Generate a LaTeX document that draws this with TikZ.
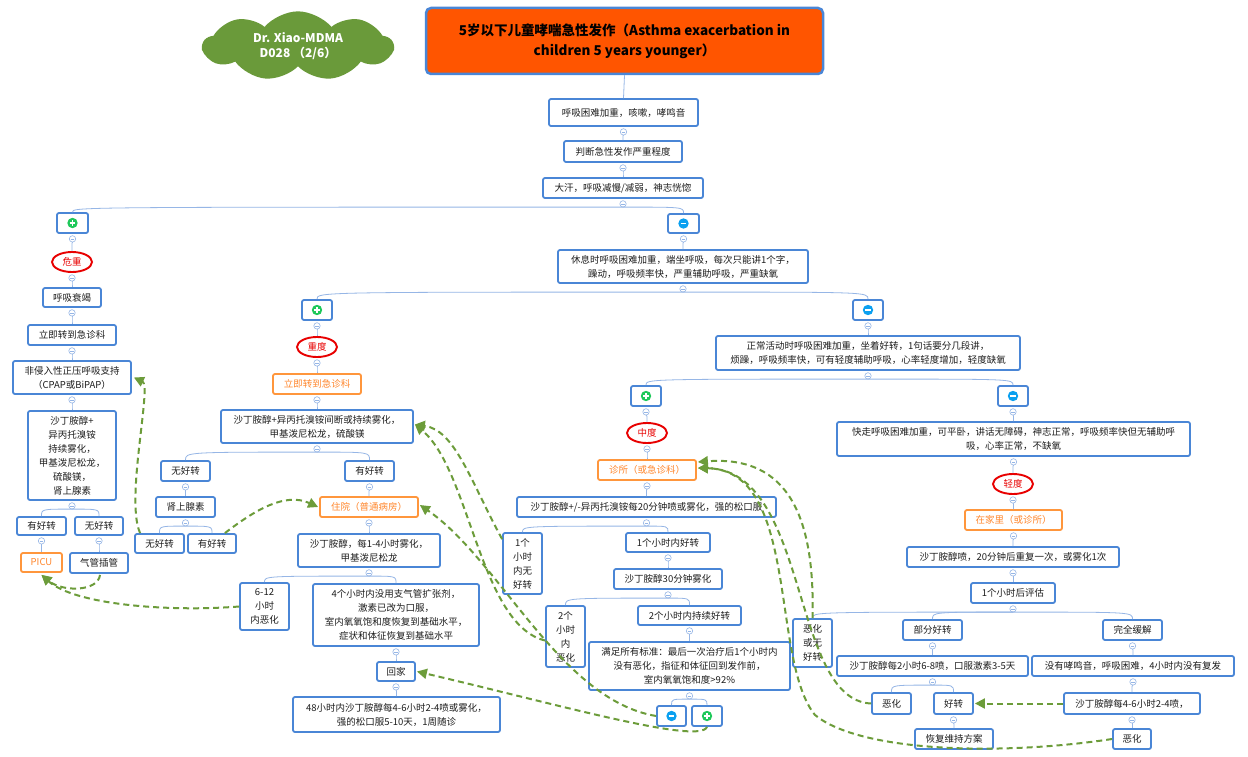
\documentclass[tikz,border=0pt]{standalone}
\usepackage{fontspec}
\setmainfont{Noto Sans CJK SC}
\usetikzlibrary{shapes.geometric,shapes.symbols,arrows.meta,calc}
\definecolor{bblue}{RGB}{74,134,214}
\definecolor{lblue}{RGB}{150,182,230}
\definecolor{oborder}{RGB}{255,150,60}
\definecolor{otext}{RGB}{255,135,45}
\definecolor{rred}{RGB}{232,0,0}
\definecolor{dgreen}{RGB}{108,156,58}
\definecolor{cgreen}{RGB}{106,154,58}
\definecolor{tred}{RGB}{255,85,0}
\definecolor{pgreen}{RGB}{30,200,90}
\definecolor{mblue}{RGB}{10,160,240}
\definecolor{txt}{RGB}{30,30,30}
\tikzset{
 bx/.style={draw=bblue, line width=1.8pt, rounded corners=2pt, fill=white, align=center, inner sep=0pt, font=\fontsize{9.5}{14}\selectfont, text=txt},
 ob/.style={draw=oborder, text=otext},
 ell/.style={ellipse, draw=rred, line width=1.9pt, fill=white, text=rred, inner sep=0pt, minimum width=40, minimum height=20, font=\fontsize{9.5}{12}\selectfont},
 tl/.style={draw=lblue, line width=0.8pt},
 ccs/.style={draw=lblue, line width=0.6pt, fill=white},
 da/.style={draw=dgreen, line width=2pt, dash pattern=on 6pt off 4pt, -{Triangle[length=10pt,width=10pt]}},
}
\newcommand{\bxn}[7][]{\node[bx,#1,minimum width={#5-#3},minimum height={#6-#4}] (#2) at ({(#3+#5)/2},{(#4+#6)/2}) {#7};}
\newcommand{\cc}[1]{\coordinate (#1o) at ($(#1.south)+(0,8.2)$);\draw[ccs] ($(#1.south)+(0,5)$) circle[radius=3.2pt]; \draw[lblue,line width=0.5pt] ($(#1.south)+(-1.6,5)$) -- ($(#1.south)+(1.6,5)$);}
\newcommand{\br}[2]{\draw[tl] (#1o) .. controls (#2.north |- #1o) .. (#2.north);}
\newcommand{\plusic}[1]{\fill[pgreen] (#1) circle[radius=5.2pt]; \draw[white,line width=1.6pt] ($(#1)+(-2.8,0)$) -- ($(#1)+(2.8,0)$) ($(#1)+(0,-2.8)$) -- ($(#1)+(0,2.8)$);}
\newcommand{\minusic}[1]{\fill[mblue] (#1) circle[radius=5.2pt]; \draw[white,line width=1.6pt] ($(#1)+(-2.8,0)$) -- ($(#1)+(2.8,0)$);}
\begin{document}
\begin{tikzpicture}[x=1pt,y=-1pt]
\useasboundingbox (0,0) rectangle (1248,757);
\fill[white] (0,0) rectangle (1248,757);
% cloud and title
\node[cloud, cloud puffs=9, cloud puff arc=100, aspect=2.7, fill=cgreen, draw=none, minimum width=190, minimum height=66, text=white, font=\bfseries\fontsize{12}{15}\selectfont, align=center] (CL) at (298,46) {Dr. Xiao-MDMA\\D028 （2/6）};
\node[draw=bblue, line width=2.5pt, rounded corners=5pt, fill=tred, minimum width=397, minimum height=66, font=\bfseries\fontsize{13.5}{20}\selectfont, align=center, text=black] (T) at (624.5,41) {5岁以下儿童哮喘急性发作（Asthma exacerbation in\\children 5 years younger）};
% main chain
\bxn{A}{549}{99}{698}{126}{呼吸困难加重，咳嗽，哮鸣音}
\bxn{B}{564}{141}{682}{162}{判断急性发作严重程度}
\bxn{C}{543}{178}{703}{198}{大汗，呼吸减慢/减弱，神志恍惚}
\bxn{P1}{57}{213}{88}{233}{}
\bxn{M1}{668}{214}{699}{233}{}
% critical branch
\node[ell] (W1) at (72,262) {危重};
\bxn{RF}{43}{288}{101}{307}{呼吸衰竭}
\bxn{ER1}{28}{325}{116}{345}{立即转到急诊科}
\bxn{NIV}{13}{361}{131}{394}{非侵入性正压呼吸支持\\（CPAP或BiPAP）}
\bxn{STL}{28}{411}{116}{500}{沙丁胺醇+\\异丙托溴铵\\持续雾化，\\甲基泼尼松龙，\\硫酸镁，\\肾上腺素}
\bxn{YF1}{17}{517}{66}{535}{有好转}
\bxn{NF1}{75}{517}{123}{535}{无好转}
\bxn[ob]{PICU}{21}{553}{62}{572}{PICU}
\bxn{IT}{70}{553}{128}{573}{气管插管}
% severe branch
\bxn{R}{558}{250}{808}{283}{休息时呼吸困难加重，端坐呼吸，每次只能讲1个字，\\躁动，呼吸频率快，严重辅助呼吸，严重缺氧}
\bxn{P2}{302}{300}{332}{320}{}
\bxn{M2}{853}{300}{883}{320}{}
\node[ell] (W2e) at (317,347) {重度};
\bxn[ob]{ER2}{273}{374}{361}{394}{立即转到急诊科}
\bxn{ST2}{221}{410}{413}{443}{沙丁胺醇+异丙托溴铵间断或持续雾化，\\甲基泼尼松龙，硫酸镁}
\bxn{NF3}{161}{461}{210}{481}{无好转}
\bxn{YF3}{345}{461}{394}{481}{有好转}
\bxn{EP}{156}{497}{215}{517}{肾上腺素}
\bxn{NF2}{135}{534}{184}{553}{无好转}
\bxn{YF2}{188}{534}{236}{553}{有好转}
\bxn[ob]{ZY}{320}{497}{418}{517}{住院（普通病房）}
\bxn{S14}{298}{534}{440}{567}{沙丁胺醇，每1-4小时雾化，\\甲基泼尼松龙}
\bxn{SX}{240}{583}{289}{630}{6-12\\小时\\内恶化}
\bxn{F4}{313}{584}{479}{646}{4个小时内没用支气管扩张剂，\\激素已改为口服，\\室内氧氧饱和度恢复到基础水平，\\症状和体征恢复到基础水平}
\bxn{HM}{377}{662}{415}{681}{回家}
\bxn{H48}{293}{697}{500}{732}{48小时内沙丁胺醇每4-6小时2-4喷或雾化，\\强的松口服5-10天，1周随诊}
% moderate branch
\bxn{N}{716}{336}{1020}{370}{正常活动时呼吸困难加重，坐着好转，1句话要分几段讲，\\烦躁，呼吸频率快，可有轻度辅助呼吸，心率轻度增加，轻度缺氧}
\bxn{P3}{631}{386}{661}{406}{}
\bxn{M3}{998}{386}{1028}{406}{}
\node[ell] (W3e) at (647,433) {中度};
\bxn[ob]{ZS}{598}{460}{696}{480}{诊所（或急诊科）}
\bxn{S20}{517}{497}{776}{517}{沙丁胺醇+/-异丙托溴铵每20分钟喷或雾化，强的松口服}
\bxn{NG1}{503}{533}{542}{594}{1个\\小时\\内无\\好转}
\bxn{G1}{626}{533}{710}{552}{1个小时内好转}
\bxn{S30}{614}{569}{722}{589}{沙丁胺醇30分钟雾化}
\bxn{W2}{546}{606}{585}{667}{2个\\小时\\内\\恶化}
\bxn{G2}{638}{606}{741}{625}{2个小时内持续好转}
\bxn{ALL}{589}{642}{790}{690}{满足所有标准：最后一次治疗后1个小时内\\没有恶化，指征和体征回到发作前，\\室内氧氧饱和度>92\%}
\bxn{M4}{657}{706}{686}{726}{}
\bxn{P4}{692}{706}{722}{726}{}
% mild branch
\bxn{Q}{837}{422}{1190}{456}{快走呼吸困难加重，可平卧，讲话无障碍，神志正常，呼吸频率快但无辅助呼\\吸，心率正常，不缺氧}
\node[ell] (W4e) at (1013,484) {轻度};
\bxn[ob]{HOME}{965}{510}{1062}{530}{在家里（或诊所）}
\bxn{SP}{907}{547}{1119}{567}{沙丁胺醇喷，20分钟后重复一次，或雾化1次}
\bxn{E1}{971}{583}{1055}{603}{1个小时后评估}
\bxn{WN}{793}{619}{832}{667}{恶化\\或无\\好转}
\bxn{PG}{903}{620}{962}{640}{部分好转}
\bxn{CR}{1103}{620}{1162}{640}{完全缓解}
\bxn{S26}{837}{656}{1028}{676}{沙丁胺醇每2小时6-8喷，口服激素3-5天}
\bxn{NW}{1032}{656}{1234}{676}{没有哮鸣音，呼吸困难，4小时内没有复发}
\bxn{WP}{872}{693}{911}{714}{恶化}
\bxn{GZ}{934}{693}{973}{714}{好转}
\bxn{S46}{1064}{693}{1200}{714}{沙丁胺醇每4-6小时2-4喷，}
\bxn{MT}{915}{729}{993}{749}{恢复维持方案}
\bxn{WC}{1113}{729}{1151}{749}{恶化}
% icons
\plusic{P1}\minusic{M1}\plusic{P2}\minusic{M2}\plusic{P3}\minusic{M3}\minusic{M4}\plusic{P4}
% tree connectors
\draw[tl] (T.south) -- (A.north);
\cc{A}\br{A}{B}
\cc{B}\br{B}{C}
\cc{C}\br{C}{P1}\br{C}{M1}
\cc{P1}\br{P1}{W1}
\cc{W1}\br{W1}{RF}
\cc{RF}\br{RF}{ER1}
\cc{ER1}\br{ER1}{NIV}
\cc{NIV}\br{NIV}{STL}
\cc{STL}\br{STL}{YF1}\br{STL}{NF1}
\cc{YF1}\br{YF1}{PICU}
\cc{NF1}\br{NF1}{IT}
\cc{M1}\br{M1}{R}
\cc{R}\br{R}{P2}\br{R}{M2}
\cc{P2}\br{P2}{W2e}
\cc{W2e}\br{W2e}{ER2}
\cc{ER2}\br{ER2}{ST2}
\cc{ST2}\br{ST2}{NF3}\br{ST2}{YF3}
\cc{NF3}\br{NF3}{EP}
\cc{EP}\br{EP}{NF2}\br{EP}{YF2}
\cc{YF3}\br{YF3}{ZY}
\cc{ZY}\br{ZY}{S14}
\cc{S14}\br{S14}{SX}\br{S14}{F4}
\cc{F4}\br{F4}{HM}
\cc{HM}\br{HM}{H48}
\cc{M2}\br{M2}{N}
\cc{N}\br{N}{P3}\br{N}{M3}
\cc{P3}\br{P3}{W3e}
\cc{W3e}\br{W3e}{ZS}
\cc{ZS}\br{ZS}{S20}
\cc{S20}\br{S20}{NG1}\br{S20}{G1}
\cc{G1}\br{G1}{S30}
\cc{S30}\br{S30}{W2}\br{S30}{G2}
\cc{G2}\br{G2}{ALL}
\cc{ALL}\br{ALL}{M4}\br{ALL}{P4}
\cc{M3}\br{M3}{Q}
\cc{Q}\br{Q}{W4e}
\cc{W4e}\br{W4e}{HOME}
\cc{HOME}\br{HOME}{SP}
\cc{SP}\br{SP}{E1}
\cc{E1}\br{E1}{WN}\br{E1}{PG}\br{E1}{CR}
\cc{PG}\br{PG}{S26}
\cc{S26}\br{S26}{WP}\br{S26}{GZ}
\cc{GZ}\br{GZ}{MT}
\cc{CR}\br{CR}{NW}
\cc{NW}\br{NW}{S46}
\cc{S46}\br{S46}{WC}
% dashed arrows
\draw[da] ($(NF2.north west)+(6,0)$) .. controls (125,500) and (152,386) .. ($(NIV.east)+(2,0)$);
\draw[da] ($(YF2.north east)+(-12,0)$) .. controls (255,510) and (285,492) .. ($(ZY.west)+(-1,0)$);
\draw[da] ($(IT.south)+(1,1)$) .. controls (98,592) and (62,592) .. ($(PICU.south)+(0,2)$);
\draw[da] (SX.west) .. controls (170,612) and (75,605) .. ($(PICU.south)+(0,2)$);
\draw[da] ($(NG1.north west)+(0,7)$) .. controls (470,480) and (455,430) .. ($(ST2.east)+(1,-2)$);
\draw[da] ($(W2.west)+(0,4)$) .. controls (480,625) and (470,470) .. ($(ST2.east)+(1,-2)$);
\draw[da] ($(M4.west)$) .. controls (560,700) and (500,560) .. ($(ZY.east)+(1,-2)$);
\draw[da] (P4.south) .. controls (700,745) and (560,705) .. ($(HM.east)+(1,0)$);
\draw[da] (WN.north) .. controls (815,520) and (790,455) .. ($(ZS.east)+(1,-8)$);
\draw[da] (WP.west) .. controls (790,700) and (810,470) .. ($(ZS.east)+(1,-2)$);
\draw[da] (WC.west) .. controls (1000,756) and (860,752) .. (815,715) .. controls (770,660) and (800,470) .. ($(ZS.east)+(1,-2)$);
\draw[da] (S46.west) -- ($(GZ.east)+(1,0)$);
\end{tikzpicture}
\end{document}
